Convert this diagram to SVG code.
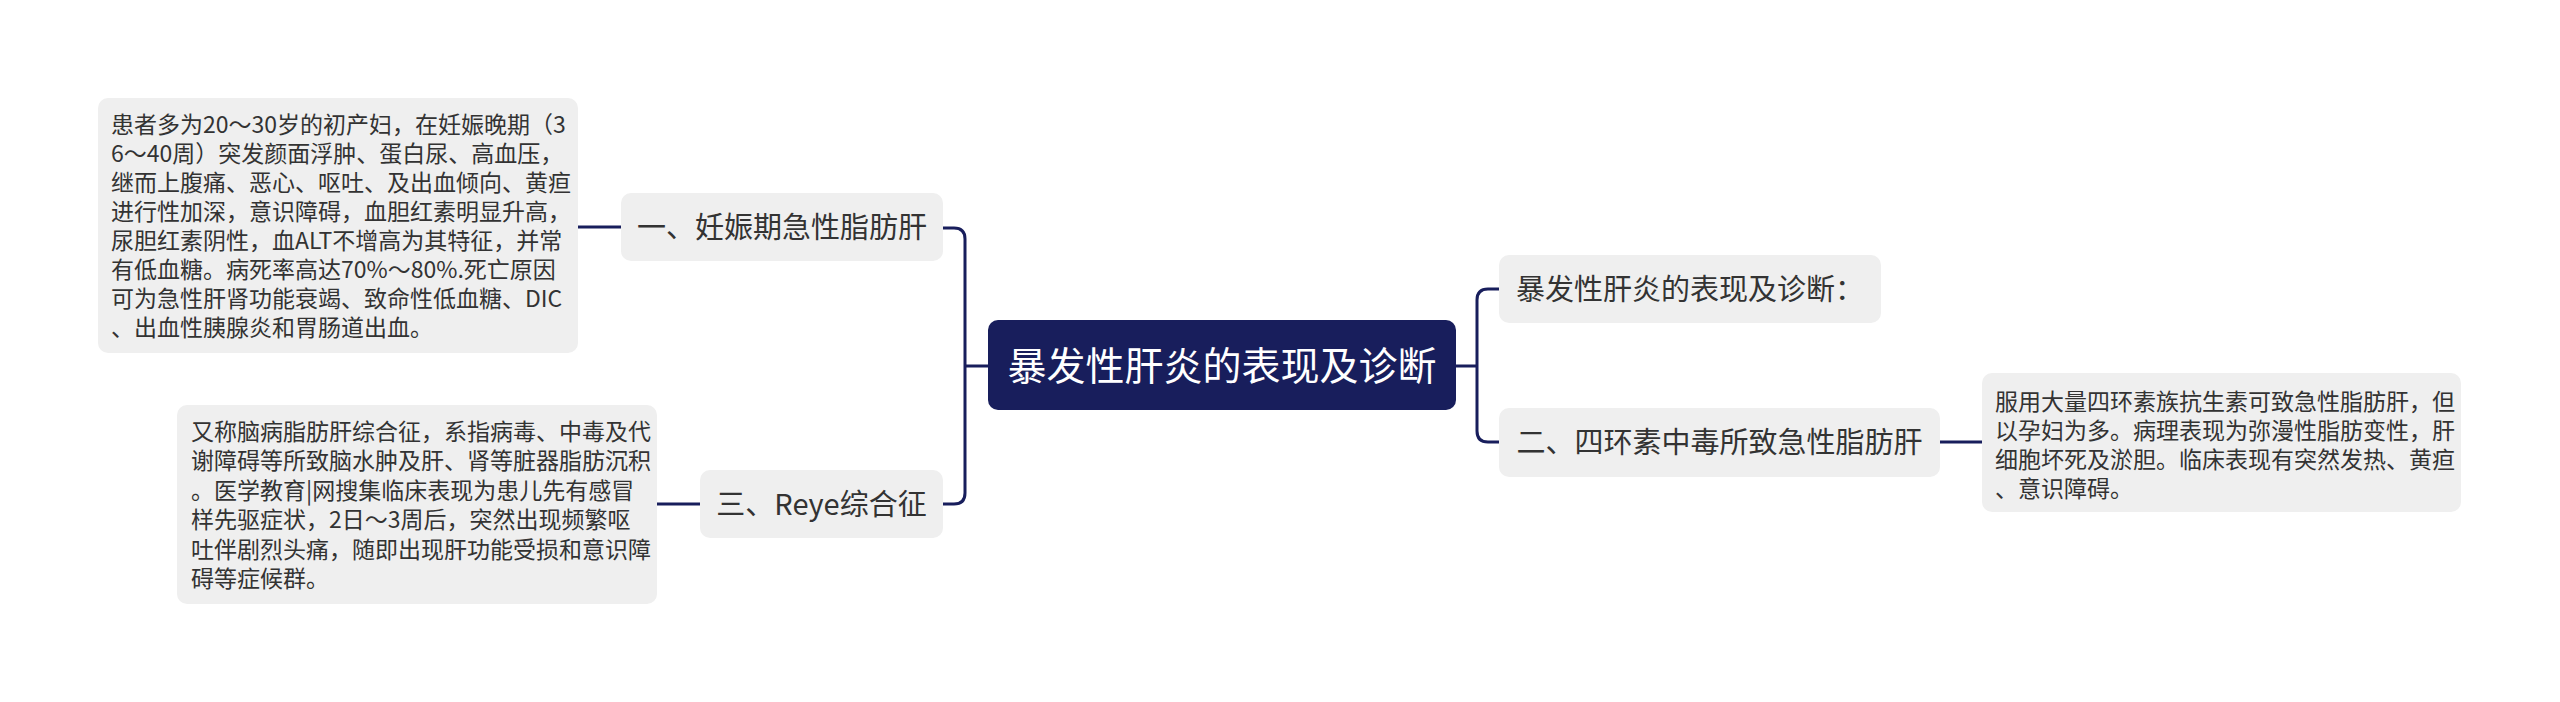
<svg xmlns="http://www.w3.org/2000/svg" width="2560" height="702" viewBox="0 0 2560 702">
<defs>
<style>
.box{fill:#efefef;}
.root{fill:#181e5c;}
.t{font-family:"Noto Sans CJK SC","Noto Sans",sans-serif;fill:#333333;}
.d{font-size:23px;}
.b{font-size:29px;text-anchor:middle;}
.r{font-size:39px;text-anchor:middle;fill:#ffffff;}
.c{fill:none;stroke:#181e5c;stroke-width:3;}
</style>
</defs>
<rect width="2560" height="702" fill="#ffffff"/>
<g id="connectors">
<path class="c" d="M 943 228 H 954 Q 965 228 965 239 V 493 Q 965 504 954 504 H 943 M 965 366 H 988"/>
<path class="c" d="M 1456 366 H 1477 M 1499 289 H 1488 Q 1477 289 1477 300 V 431 Q 1477 442 1488 442 H 1499"/>
<path class="c" d="M 578 227 H 621"/>
<path class="c" d="M 657 504 H 700"/>
<path class="c" d="M 1940 442 H 1982"/>
</g>
<g id="root">
<rect class="root" x="988" y="320" width="468" height="90" rx="10"/>
<text class="t r" x="1222" y="380">暴发性肝炎的表现及诊断</text>
</g>
<g id="branch1">
<rect class="box" x="621" y="193" width="322" height="68" rx="10"/>
<text class="t b" x="782" y="238">一、妊娠期急性脂肪肝</text>
</g>
<g id="branch3">
<rect class="box" x="700" y="470" width="243" height="68" rx="10"/>
<text class="t b" x="821.5" y="515">三、Reye综合征</text>
</g>
<g id="branchR1">
<rect class="box" x="1499" y="255" width="382" height="68" rx="10"/>
<text class="t b" x="1690" y="300">暴发性肝炎的表现及诊断：</text>
</g>
<g id="branch2">
<rect class="box" x="1499" y="408" width="441" height="69" rx="10"/>
<text class="t b" x="1719.5" y="453">二、四环素中毒所致急性脂肪肝</text>
</g>
<g id="detail1">
<rect class="box" x="98" y="98" width="480" height="255" rx="10"/>
<text class="t d" x="111">
<tspan x="111" y="133">患者多为20～30岁的初产妇，在妊娠晚期（3</tspan>
<tspan x="111" y="162">6～40周）突发颜面浮肿、蛋白尿、高血压，</tspan>
<tspan x="111" y="191">继而上腹痛、恶心、呕吐、及出血倾向、黄疸</tspan>
<tspan x="111" y="220">进行性加深，意识障碍，血胆红素明显升高，</tspan>
<tspan x="111" y="249">尿胆红素阴性，血ALT不增高为其特征，并常</tspan>
<tspan x="111" y="278">有低血糖。病死率高达70%～80%.死亡原因</tspan>
<tspan x="111" y="307">可为急性肝肾功能衰竭、致命性低血糖、DIC</tspan>
<tspan x="111" y="336">、出血性胰腺炎和胃肠道出血。</tspan>
</text>
</g>
<g id="detail3">
<rect class="box" x="177" y="405" width="480" height="199" rx="10"/>
<text class="t d" x="191">
<tspan x="191" y="439.5">又称脑病脂肪肝综合征，系指病毒、中毒及代</tspan>
<tspan x="191" y="469">谢障碍等所致脑水肿及肝、肾等脏器脂肪沉积</tspan>
<tspan x="191" y="498.5">。医学教育|网搜集临床表现为患儿先有感冒</tspan>
<tspan x="191" y="528">样先驱症状，2日～3周后，突然出现频繁呕</tspan>
<tspan x="191" y="557.5">吐伴剧烈头痛，随即出现肝功能受损和意识障</tspan>
<tspan x="191" y="587">碍等症候群。</tspan>
</text>
</g>
<g id="detail2">
<rect class="box" x="1982" y="373" width="479" height="139" rx="10"/>
<text class="t d" x="1995">
<tspan x="1995" y="409.5">服用大量四环素族抗生素可致急性脂肪肝，但</tspan>
<tspan x="1995" y="438.5">以孕妇为多。病理表现为弥漫性脂肪变性，肝</tspan>
<tspan x="1995" y="467.5">细胞坏死及淤胆。临床表现有突然发热、黄疸</tspan>
<tspan x="1995" y="496.5">、意识障碍。</tspan>
</text>
</g>
</svg>
